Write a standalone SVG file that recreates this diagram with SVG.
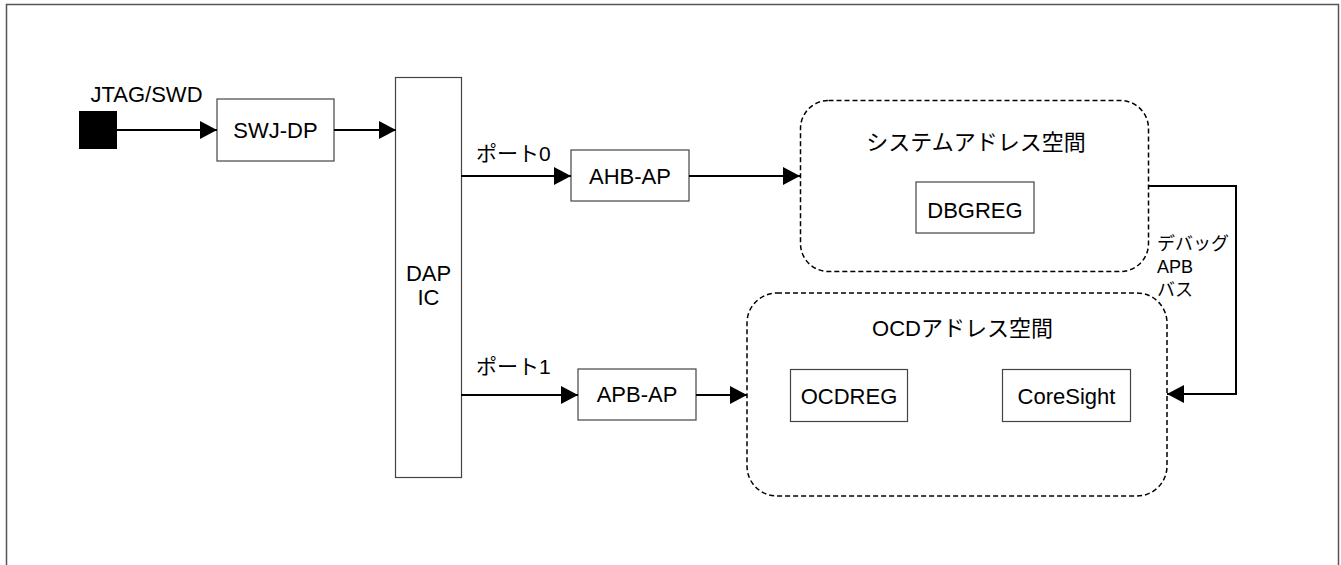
<svg xmlns="http://www.w3.org/2000/svg" width="1341" height="565" viewBox="0 0 1341 565">
<defs>
<marker id="arr" markerUnits="userSpaceOnUse" markerWidth="19" markerHeight="19" refX="17" refY="9" orient="auto">
<path d="M0,0 L17,9 L0,18 Z" fill="#000"/>
</marker>
<style>
.box{fill:#fff;stroke:#444;stroke-width:1.2}
.dash{fill:none;stroke:#000;stroke-width:1.5;stroke-dasharray:5,3}
.conn{fill:none;stroke:#000;stroke-width:2;marker-end:url(#arr)}
text{font-family:"Liberation Sans","Noto Sans CJK JP",sans-serif;fill:#000}
.lbl{font-size:22px;text-anchor:middle}
.ttl{font-size:22px;text-anchor:middle}
.port{font-size:21px}
.sm{font-size:18px}
</style>
</defs>
<rect x="0" y="0" width="1341" height="565" fill="#fff"/>
<rect x="6.5" y="4.5" width="1332" height="620" fill="none" stroke="#555" stroke-width="1.5"/>

<g id="jtag">
<rect x="79" y="111" width="38" height="38" fill="#000"/>
<text class="lbl" x="146.5" y="102">JTAG/SWD</text>
</g>
<g id="swjdp">
<rect class="box" x="217" y="99" width="117" height="62"/>
<text class="lbl" x="275.5" y="138">SWJ-DP</text>
</g>
<g id="dapic">
<rect class="box" x="395.5" y="77.5" width="66" height="400"/>
<text class="lbl" x="428.5" y="281">DAP</text>
<text class="lbl" x="428.5" y="305">IC</text>
</g>
<g id="ahbap">
<rect class="box" x="571" y="150" width="118" height="51"/>
<text class="lbl" x="630" y="183.5">AHB-AP</text>
</g>
<g id="apbap">
<rect class="box" x="578" y="369" width="118" height="51"/>
<text class="lbl" x="637" y="402">APB-AP</text>
</g>
<g id="sysspace">
<rect class="dash" x="800.5" y="100.5" width="348" height="171" rx="28" ry="28"/>
<text class="ttl" x="976" y="150">システムアドレス空間</text>
</g>
<g id="dbgreg">
<rect class="box" x="916" y="182" width="118" height="51"/>
<text class="lbl" x="975" y="218">DBGREG</text>
</g>
<g id="ocdspace">
<rect class="dash" x="747" y="293" width="420" height="203" rx="30" ry="30"/>
<text class="ttl" x="962.5" y="336">OCDアドレス空間</text>
</g>
<g id="ocdreg">
<rect class="box" x="790.5" y="369.5" width="117" height="52"/>
<text class="lbl" x="849" y="404">OCDREG</text>
</g>
<g id="coresight">
<rect class="box" x="1002.5" y="369.5" width="128" height="52"/>
<text class="lbl" x="1066.5" y="404">CoreSight</text>
</g>

<g id="connectors">
<path class="conn" d="M117,130 H217"/>
<path class="conn" d="M334,130 H396"/>
<path class="conn" d="M461,176 H571"/>
<path class="conn" d="M689,176 H800"/>
<path class="conn" d="M461,395 H578"/>
<path class="conn" d="M696,395 H747"/>
<path class="conn" d="M1149,186 H1236 V394 H1167"/>
<text class="port" x="476" y="161">ポート0</text>
<text class="port" x="476" y="374">ポート1</text>
<text class="sm" x="1157" y="250">デバッグ</text>
<text class="sm" x="1157" y="273">APB</text>
<text class="sm" x="1157" y="296">バス</text>
</g>
</svg>
